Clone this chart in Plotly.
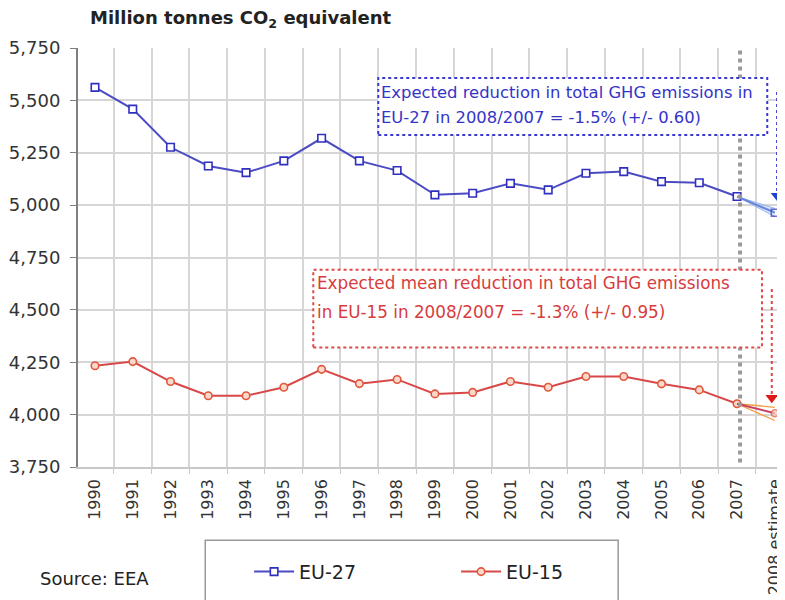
import plotly.graph_objects as go

years = ["1990", "1991", "1992", "1993", "1994", "1995", "1996", "1997", "1998", "1999",
         "2000", "2001", "2002", "2003", "2004", "2005", "2006", "2007", "2008 estimate"]
eu27 = [5562, 5458, 5276, 5187, 5155, 5211, 5319, 5211, 5165, 5049,
        5057, 5104, 5073, 5152, 5160, 5112, 5107, 5041]
eu15 = [4233, 4253, 4158, 4090, 4090, 4131, 4216, 4148, 4168, 4099,
        4106, 4158, 4131, 4182, 4182, 4147, 4118, 4052]
eu27_est = [5041, 4964]
eu27_est_hi = [5041, 4985]
eu27_est_lo = [5041, 4945]
eu15_est = [4052, 4007]
eu15_est_hi = [4052, 4035]
eu15_est_lo = [4052, 3972]
y_ticks = [3750, 4000, 4250, 4500, 4750, 5000, 5250, 5500, 5750]

FONT = "DejaVu Sans"
BLUE = "#4b4bc4"
BLUE_M = "#2f2fc0"
RED = "#d84848"
RED_M = "#e0583c"

xi = list(range(len(years)))
x_hist = xi[:len(eu27)]
x_est = xi[len(eu27) - 1:]

fig = go.Figure()

fig.add_trace(go.Scatter(x=x_hist, y=eu27, name="EU-27", mode="lines+markers",
                         line=dict(color=BLUE, width=2),
                         marker=dict(symbol="square", size=7.5, color="white", line=dict(color=BLUE_M, width=1.6))))
fig.add_trace(go.Scatter(x=x_hist, y=eu15, name="EU-15", mode="lines+markers",
                         line=dict(color=RED, width=2),
                         marker=dict(symbol="circle", size=7.5, color="#fbd8cc", line=dict(color=RED_M, width=1.6))))

# EU-27 uncertainty fan
fig.add_trace(go.Scatter(x=x_est, y=eu27_est_hi, mode="lines", line=dict(color="#9db8ee", width=1),
                         showlegend=False, hoverinfo="skip"))
fig.add_trace(go.Scatter(x=x_est, y=eu27_est_lo, mode="lines", line=dict(color="#9db8ee", width=1),
                         fill="tonexty", fillcolor="rgba(160,190,240,0.45)", showlegend=False, hoverinfo="skip"))
fig.add_trace(go.Scatter(x=x_est, y=eu27_est, mode="lines+markers",
                         line=dict(color="#6a86dc", width=2),
                         marker=dict(symbol="square-open", size=[0, 7], color=BLUE_M, line=dict(width=1.5)),
                         showlegend=False, hoverinfo="skip"))
# EU-15 uncertainty fan
fig.add_trace(go.Scatter(x=x_est, y=eu15_est_hi, mode="lines", line=dict(color="#f0a040", width=1.3),
                         showlegend=False, hoverinfo="skip"))
fig.add_trace(go.Scatter(x=x_est, y=eu15_est_lo, mode="lines", line=dict(color="#f0a040", width=1.3),
                         showlegend=False, hoverinfo="skip"))
fig.add_trace(go.Scatter(x=x_est, y=eu15_est, mode="lines+markers",
                         line=dict(color="#c84060", width=2),
                         marker=dict(symbol="circle", size=[0, 7], color="#f7c8b8", line=dict(color=RED_M, width=1.5)),
                         showlegend=False, hoverinfo="skip"))

# arrow heads
fig.add_trace(go.Scatter(x=[18.06], y=[5045], mode="markers",
                         marker=dict(symbol="triangle-down", size=11, color="#1f3fd0"),
                         showlegend=False, hoverinfo="skip"))
fig.add_trace(go.Scatter(x=[17.92], y=[4080], mode="markers",
                         marker=dict(symbol="triangle-down", size=11, color="#e01818"),
                         showlegend=False, hoverinfo="skip"))

shapes = [
    dict(type="line", xref="x", yref="y", x0=17.08, x1=17.08, y0=3772, y1=5750,
         line=dict(color="#999999", width=4, dash="dot")),
    dict(type="rect", xref="x", yref="y", x0=7.5, x1=17.8, y0=5335, y1=5607,
         line=dict(color="#3a3ad0", width=2, dash="dot"), fillcolor="white", layer="above"),
    dict(type="rect", xref="x", yref="y", x0=5.78, x1=17.66, y0=4320, y1=4692,
         line=dict(color="#e04848", width=2, dash="dot"), fillcolor="white", layer="above"),
    dict(type="line", xref="x", yref="y", x0=18.06, x1=18.06, y0=5540, y1=5060,
         line=dict(color="#3a3ad0", width=2, dash="dot")),
    dict(type="line", xref="x", yref="y", x0=17.92, x1=17.92, y0=4600, y1=4095,
         line=dict(color="#e04848", width=2, dash="dot")),
    dict(type="rect", xref="paper", yref="paper", x0=0.18, x1=0.764, y0=-0.175, y1=-0.33,
         line=dict(color="#999999", width=1.5)),
]

annotations = [
    dict(text="<b>Million tonnes CO<sub>2</sub> equivalent</b>", xref="paper", yref="paper",
         x=0.014, y=1.0, yshift=29, xanchor="left", yanchor="middle", showarrow=False,
         font=dict(family=FONT, size=18, color="#222222")),
    dict(text="Expected reduction in total GHG emissions in", xref="x", yref="y",
         x=7.52, y=5538, xanchor="left", yanchor="middle", showarrow=False,
         font=dict(family=FONT, size=16.4, color="#3434c8")),
    dict(text="EU-27 in 2008/2007 = -1.5% (+/- 0.60)", xref="x", yref="y",
         x=7.52, y=5418, xanchor="left", yanchor="middle", showarrow=False,
         font=dict(family=FONT, size=16.4, color="#3434c8")),
    dict(text="Expected mean reduction in total GHG emissions", xref="x", yref="y",
         x=5.83, y=4630, xanchor="left", yanchor="middle", showarrow=False,
         font=dict(family=FONT, size=16.8, color="#d83c3c")),
    dict(text="in EU-15 in 2008/2007 = -1.3% (+/- 0.95)", xref="x", yref="y",
         x=5.83, y=4492, xanchor="left", yanchor="middle", showarrow=False,
         font=dict(family=FONT, size=16.8, color="#d83c3c")),
    dict(text="Source: EEA", xref="paper", yref="paper", x=-0.057, y=-0.265,
         xanchor="left", yanchor="middle", showarrow=False,
         font=dict(family=FONT, size=18, color="#222222")),
]

# the page body adds an 8px offset, so the figure is sized to fit the 785x600 window
fig.update_layout(
    width=777, height=592,
    margin=dict(l=70, r=0, t=40, b=133),
    plot_bgcolor="white", paper_bgcolor="white",
    font=dict(family=FONT, size=15, color="#333333"),
    shapes=shapes, annotations=annotations,
    showlegend=True,
    legend=dict(orientation="h", x=0.242, y=-0.25, xanchor="left", yanchor="middle",
                traceorder="normal",
                font=dict(family=FONT, size=19, color="#222222"),
                itemwidth=40, entrywidth=152, borderwidth=0, bgcolor="rgba(0,0,0,0)"),
    xaxis=dict(
        range=[-0.45, 18.27], tickmode="array", tickvals=xi, ticktext=years,
        tickangle=-90, showgrid=False, ticks="", zeroline=False,
        showline=True, linecolor="#c8c8c8", linewidth=1.5,
        ticklabelstandoff=4,
        tickfont=dict(family=FONT, size=16, color="#333333"),
        minor=dict(tick0=0.5, dtick=1, showgrid=True, gridcolor="#d6d6d6", gridwidth=1.5,
                   ticks="outside", ticklen=5, tickcolor="#c8c8c8"),
    ),
    yaxis=dict(
        range=[3750, 5750], tickmode="array", tickvals=y_ticks, tickformat=",",
        showgrid=True, gridcolor="#d6d6d6", gridwidth=1.5, zeroline=False,
        showline=True, linecolor="#808080", linewidth=2,
        ticks="outside", ticklen=6, tickcolor="#808080",
        ticklabelstandoff=6,
        tickfont=dict(family=FONT, size=18, color="#333333"),
    ),
)

fig.write_html("out.html")
